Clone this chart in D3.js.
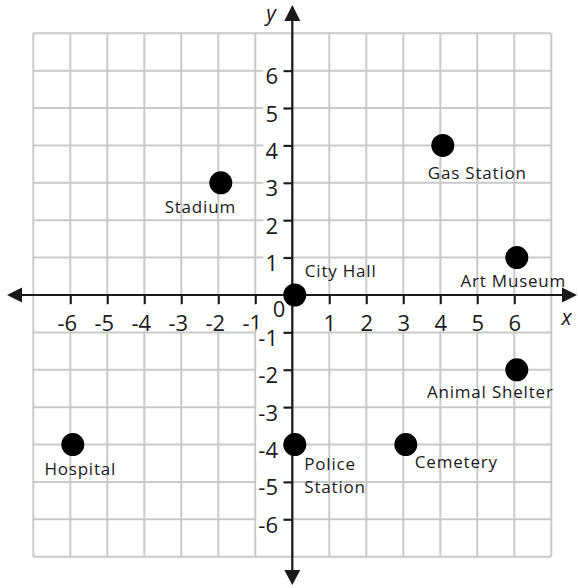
<!DOCTYPE html>
<html>
<head>
<meta charset="utf-8">
<script src="https://cdn.jsdelivr.net/npm/d3@7"></script>
<style>
  html, body { margin: 0; padding: 0; background: #fff; }
  svg { display: block; }
</style>
</head>
<body>
<svg id="chart" width="578" height="588"></svg>
<script>
// ---- data ----
const xTicks = [-6, -5, -4, -3, -2, -1, 1, 2, 3, 4, 5, 6];
const yTicks = [-6, -5, -4, -3, -2, -1, 1, 2, 3, 4, 5, 6];
const places = ["Stadium", "Gas Station", "Art Museum", "City Hall", "Animal Shelter", "Police Station", "Cemetery", "Hospital"];
const placeX = [-2, 4, 6, 0, 6, 0, 3, -6];
const placeY = [3, 4, 1, 0, -2, -4, -4, -4];

// ---- label layout (styling only) ----
const labelLayout = {
  "Stadium":        { anchor: "middle", dx: -18, dy: 30, lines: ["Stadium"] },
  "Gas Station":    { anchor: "middle", dx: 37,  dy: 34, lines: ["Gas Station"] },
  "Art Museum":     { anchor: "middle", dx: -1,  dy: 29, lines: ["Art Museum"] },
  "City Hall":      { anchor: "start",  dx: 12.5, dy: -18, lines: ["City Hall"] },
  "Animal Shelter": { anchor: "middle", dx: -24, dy: 28.5, lines: ["Animal Shelter"] },
  "Police Station": { anchor: "start",  dx: 12,  dy: 25.5, lines: ["Police", "Station"] },
  "Cemetery":       { anchor: "start",  dx: 11.5, dy: 23.5, lines: ["Cemetery"] },
  "Hospital":       { anchor: "middle", dx: 10,  dy: 30.5, lines: ["Hospital"] }
};

const svg = d3.select("#chart");
const W = 578, H = 588;
svg.append("rect").attr("width", W).attr("height", H).attr("fill", "#fff");

const x = d3.scaleLinear().domain([-7, 7]).range([33.3, 551.3]);
const y = d3.scaleLinear().domain([-7, 7]).range([556.7, 33.3]);
const x0 = x(0), y0 = y(0);

const numFont = "'Open Sans', 'DejaVu Sans', sans-serif";
const ink = "#1a1a1a";

// grid
const gridVals = d3.range(-7, 8);
const grid = svg.append("g").attr("stroke", "#c9c9c9").attr("stroke-width", 2);
grid.selectAll("line.v").data(gridVals).join("line")
  .attr("x1", d => x(d)).attr("x2", d => x(d))
  .attr("y1", y(7)).attr("y2", y(-7));
grid.selectAll("line.h").data(gridVals).join("line")
  .attr("y1", d => y(d)).attr("y2", d => y(d))
  .attr("x1", x(-7)).attr("x2", x(7));

// x axis (ticks + labels)
const gx = svg.append("g").attr("transform", `translate(0,${y0})`)
  .call(d3.axisBottom(x).tickValues(xTicks).tickSizeInner(9).tickSizeOuter(0).tickFormat(d3.format("d")));
gx.select(".domain").remove();
gx.selectAll(".tick line").attr("stroke", ink).attr("stroke-width", 2);
gx.selectAll(".tick text")
  .attr("font-family", numFont).attr("font-size", 22).attr("fill", ink)
  .attr("text-anchor", "end").attr("x", 6.3).attr("y", 35.5).attr("dy", null)
  .text(d => d < 0 ? "-" + Math.abs(d) : String(d));
gx.selectAll(".tick").each(function() {
  const t = d3.select(this).select("text");
  const bb = t.node().getBBox();
  d3.select(this).insert("rect", "text")
    .attr("x", bb.x - 2).attr("width", bb.width + 4)
    .attr("y", 10).attr("height", 26).attr("fill", "#fff");
});

// y axis (ticks + labels)
const gy = svg.append("g").attr("transform", `translate(${x0},0)`)
  .call(d3.axisLeft(y).tickValues(yTicks).tickSizeInner(9).tickSizeOuter(0).tickFormat(d3.format("d")));
gy.select(".domain").remove();
gy.selectAll(".tick line").attr("stroke", ink).attr("stroke-width", 2);
gy.selectAll(".tick text")
  .attr("font-family", numFont).attr("font-size", 22).attr("fill", ink)
  .attr("text-anchor", "end").attr("x", -14.3).attr("y", 13).attr("dy", null)
  .text(d => d < 0 ? "-" + Math.abs(d) : String(d));
gy.selectAll(".tick").each(function() {
  const t = d3.select(this).select("text");
  const bb = t.node().getBBox();
  d3.select(this).insert("rect", "text")
    .attr("x", bb.x - 2).attr("width", -9 - (bb.x - 2))
    .attr("y", -4).attr("height", 19).attr("fill", "#fff");
});

// origin label
svg.append("text").attr("x", x0 - 7).attr("y", y0 + 22)
  .attr("text-anchor", "end").attr("font-family", numFont).attr("font-size", 22).attr("fill", ink)
  .text("0");

// axes lines with arrows
const axes = svg.append("g");
axes.append("line").attr("x1", 18).attr("x2", 566).attr("y1", y0).attr("y2", y0)
  .attr("stroke", ink).attr("stroke-width", 2.2);
axes.append("line").attr("x1", x0).attr("x2", x0).attr("y1", 16).attr("y2", 574)
  .attr("stroke", ink).attr("stroke-width", 2.2);
const arrows = [
  [[7, y0], [22, y0 - 7.5], [22, y0 + 7.5]],
  [[577, y0], [562, y0 - 7.5], [562, y0 + 7.5]],
  [[x0, 5], [x0 - 8, 21], [x0 + 8, 21]],
  [[x0, 585], [x0 - 8, 570], [x0 + 8, 570]]
];
axes.selectAll("path.arrow").data(arrows).join("path")
  .attr("d", d => "M" + d.map(p => p.join(",")).join("L") + "Z")
  .attr("fill", ink);

// axis names
svg.append("text").attr("x", 566.5).attr("y", 325).attr("text-anchor", "middle")
  .attr("font-family", numFont).attr("font-style", "italic").attr("font-size", 21).attr("fill", ink).text("x");
svg.append("text").attr("x", 271).attr("y", 21).attr("text-anchor", "middle")
  .attr("font-family", numFont).attr("font-style", "italic").attr("font-size", 21).attr("fill", ink).text("y");

// points
const pts = places.map((name, i) => ({ name, px: placeX[i], py: placeY[i] }));
const dotNudge = 2.5;
svg.append("g").selectAll("circle").data(pts).join("circle")
  .attr("cx", d => x(d.px) + dotNudge).attr("cy", d => y(d.py))
  .attr("r", 11.5).attr("fill", "#000");

// place labels
const lbl = svg.append("g").attr("font-family", numFont).attr("font-size", 17)
  .attr("letter-spacing", 0.8).attr("fill", ink);
pts.forEach(d => {
  const L = labelLayout[d.name];
  const t = lbl.append("text").attr("text-anchor", L.anchor)
    .attr("x", x(d.px) + L.dx).attr("y", y(d.py) + L.dy);
  L.lines.forEach((ln, k) => {
    t.append("tspan").attr("x", x(d.px) + L.dx).attr("dy", k === 0 ? 0 : 23).text(ln);
  });
});
</script>
</body>
</html>
